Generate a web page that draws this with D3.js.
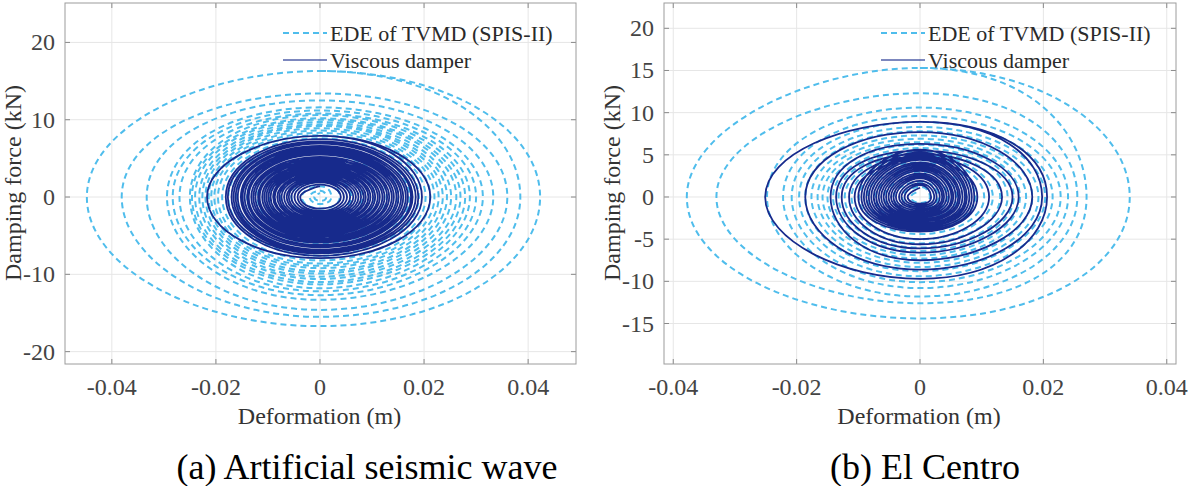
<!DOCTYPE html>
<html>
<head>
<meta charset="utf-8">
<script src="https://cdn.jsdelivr.net/npm/d3@7"></script>
<style>
  body { margin: 0; background: #fff; }
  text { font-family: "Liberation Serif", "Times New Roman", serif; }
</style>
</head>
<body>
<div id="canvas"></div>
<script>
var w = 1188;
var h = 486;

// each loop: [disp +, force -, disp -, force +]  (m, kN)
var artEde = [
  [0.0423, -16.7, -0.0448, 16.3],
  [0.0385, -15.5, -0.0381, 13.4],
  [0.0360, -14.6, -0.0333, 12.5],
  [0.0333, -13.3, -0.0294, 11.6],
  [0.0313, -12.7, -0.0283, 11.2],
  [0.0300, -12.2, -0.0270, 10.8],
  [0.0288, -11.8, -0.0250, 10.6],
  [0.0279, -11.3, -0.0246, 10.2],
  [0.0270, -11.0, -0.0240, 10.0],
  [0.0262, -10.6, -0.0232, 9.7],
  [0.0252, -10.3, -0.0226, 9.4],
  [0.0244, -9.9, -0.0220, 9.2],
  [0.0236, -9.6, -0.0214, 8.9],
  [0.0228, -9.2, -0.0209, 8.6],
  [0.0220, -8.9, -0.0203, 8.3],
  [0.0212, -8.6, -0.0196, 8.0],
  [0.0203, -8.2, -0.0188, 7.6],
  [0.0190, -7.6, -0.0176, 7.1],
  [0.0172, -6.9, -0.0160, 6.4],
  [0.0150, -6.0, -0.0140, 5.6],
  [0.0128, -5.1, -0.0120, 4.8],
  [0.0105, -4.2, -0.0098, 3.9],
  [0.0082, -3.3, -0.0076, 3.0],
  [0.0060, -2.4, -0.0055, 2.2],
  [0.0038, -1.5, -0.0035, 1.4],
  [0.0022, -0.9, -0.0020, 0.8],
  [0.0012, -0.5, -0.0011, 0.5]
];

var artVd = [
  [0.0212, -7.9, -0.0217, 7.9],
  [0.0196, -7.6, -0.0181, 7.5],
  [0.0189, -7.3, -0.0177, 7.2],
  [0.0184, -7.1, -0.0170, 7.0],
  [0.0178, -6.9, -0.0166, 6.9],
  [0.0175, -6.8, -0.0162, 6.6],
  [0.0169, -6.5, -0.0158, 6.4],
  [0.0165, -6.3, -0.0152, 6.2],
  [0.0160, -6.2, -0.0149, 6.0],
  [0.0156, -5.9, -0.0145, 5.8],
  [0.0151, -5.8, -0.0140, 5.6],
  [0.0147, -5.6, -0.0137, 5.5],
  [0.0142, -5.4, -0.0132, 5.2],
  [0.0138, -5.2, -0.0128, 5.0],
  [0.0133, -5.0, -0.0124, 4.9],
  [0.0129, -4.9, -0.0119, 4.7],
  [0.0124, -4.7, -0.0116, 4.5],
  [0.0120, -4.5, -0.0111, 4.3],
  [0.0115, -4.3, -0.0107, 4.2],
  [0.0111, -4.2, -0.0103, 4.0],
  [0.0106, -4.0, -0.0099, 3.8],
  [0.0102, -3.8, -0.0095, 3.6],
  [0.0097, -3.6, -0.0090, 3.5],
  [0.0093, -3.5, -0.0087, 3.3],
  [0.0088, -3.3, -0.0082, 3.1],
  [0.0084, -3.2, -0.0078, 3.0],
  [0.0079, -3.0, -0.0074, 2.8],
  [0.0074, -2.8, -0.0069, 2.6],
  [0.0069, -2.6, -0.0064, 2.4],
  [0.0064, -2.4, -0.0060, 2.3],
  [0.0058, -2.2, -0.0055, 2.1],
  [0.0052, -2.0, -0.0049, 1.9],
  [0.0046, -1.8, -0.0043, 1.6],
  [0.0040, -1.5, -0.0038, 1.4]
];

var elcEde = [
  [0.0340, -14.4, -0.0378, 15.3],
  [0.0270, -12.6, -0.0330, 12.3],
  [0.0255, -11.8, -0.0248, 10.6],
  [0.0240, -10.8, -0.0222, 9.6],
  [0.0228, -10.1, -0.0208, 8.9],
  [0.0215, -9.4, -0.0196, 8.3],
  [0.0203, -8.8, -0.0186, 7.8],
  [0.0192, -8.3, -0.0176, 7.3],
  [0.0182, -7.8, -0.0166, 6.9],
  [0.0172, -7.3, -0.0158, 6.5],
  [0.0162, -6.9, -0.0150, 6.2],
  [0.0152, -6.4, -0.0141, 5.8],
  [0.0142, -6.0, -0.0132, 5.4],
  [0.0130, -5.5, -0.0122, 5.0],
  [0.0118, -5.0, -0.0111, 4.6],
  [0.0104, -4.4, -0.0099, 4.1],
  [0.0090, -3.8, -0.0086, 3.5],
  [0.0075, -3.2, -0.0072, 3.0],
  [0.0060, -2.6, -0.0058, 2.4],
  [0.0045, -1.9, -0.0043, 1.8],
  [0.0030, -1.3, -0.0029, 1.2],
  [0.0016, -0.7, -0.0015, 0.7]
];

var elcVd = [
  [0.0206, -9.7, -0.0251, 8.9],
  [0.0198, -8.6, -0.0186, 7.7],
  [0.0182, -7.5, -0.0145, 6.3],
  [0.0160, -6.6, -0.0136, 5.5],
  [0.0150, -6.1, -0.0127, 5.1],
  [0.0133, -5.6, -0.0115, 4.8],
  [0.0112, -5.0, -0.0106, 4.4],
  [0.0093, -4.1, -0.0100, 5.6],
  [0.0088, -3.9, -0.0095, 5.3],
  [0.0084, -3.7, -0.0091, 5.0],
  [0.0080, -3.5, -0.0087, 4.8],
  [0.0076, -3.4, -0.0083, 4.6],
  [0.0073, -3.2, -0.0079, 4.4],
  [0.0069, -3.1, -0.0075, 4.1],
  [0.0065, -2.9, -0.0071, 3.9],
  [0.0062, -2.7, -0.0067, 3.7],
  [0.0058, -2.6, -0.0063, 3.5],
  [0.0054, -2.4, -0.0059, 3.3],
  [0.0051, -2.3, -0.0055, 3.1],
  [0.0047, -2.1, -0.0051, 2.8],
  [0.0043, -1.9, -0.0047, 2.6],
  [0.0039, -1.8, -0.0043, 2.4],
  [0.0036, -1.6, -0.0039, 2.2],
  [0.0032, -1.4, -0.0034, 1.9],
  [0.0027, -1.2, -0.0030, 1.6],
  [0.0023, -1.0, -0.0025, 1.4],
  [0.0018, -0.8, -0.0020, 1.1]
];

var xTicks = [-0.04, -0.02, 0, 0.02, 0.04];
var artYTicks = [-20, -10, 0, 10, 20];
var elcYTicks = [-15, -10, -5, 0, 5, 10, 15, 20];
var legendNames = ["EDE of TVMD (SPIS-II)", "Viscous damper"];
var captions = ["(a) Artificial seismic wave", "(b) El Centro"];

var lightBlue = "#4fbdec";
var navy = "#172a8c";

var svg = d3.select("#canvas")
    .append("svg")
    .attr("width", w)
    .attr("height", h);

// turn loop peaks into the point sequence of the spiral
// (starts on the left of the first loop; that lead-in piece is skipped when drawing)
function loopPoints(loops) {
    var pts = [[loops[0][2], 0], [0, loops[0][3]]];
    loops.forEach(function (l) {
        pts.push([l[0], 0]);
        pts.push([0, l[1]]);
        pts.push([l[2], 0]);
        pts.push([0, l[3]]);
    });
    return pts;
}

// run the line through a context that drops the first curve segment
function spiralPath(line, pts) {
    var out = d3.path();
    var skip = true;
    var ctx = {
        moveTo: function () {},
        lineTo: function (x, y) { out.lineTo(x, y); },
        bezierCurveTo: function (a, b, c, d, e, f) {
            if (skip) { out.moveTo(e, f); skip = false; }
            else out.bezierCurveTo(a, b, c, d, e, f);
        },
        closePath: function () {}
    };
    line.context(ctx)(pts);
    line.context(null);
    return out.toString();
}

function drawPanel(p) {
    var x = d3.scaleLinear().domain(p.xDom).range([p.left, p.right]);
    var y = d3.scaleLinear().domain(p.yDom).range([p.bottom, p.top]);
    var g = svg.append("g");

    // grid
    g.selectAll(".gx").data(xTicks).join("line")
        .attr("x1", d => x(d)).attr("x2", d => x(d))
        .attr("y1", p.top).attr("y2", p.bottom)
        .attr("stroke", "#e6e6e6").attr("stroke-width", 1);
    g.selectAll(".gy").data(p.yTicks).join("line")
        .attr("x1", p.left).attr("x2", p.right)
        .attr("y1", d => y(d)).attr("y2", d => y(d))
        .attr("stroke", "#e6e6e6").attr("stroke-width", 1);

    var line = d3.line()
        .x(d => x(d[0]))
        .y(d => y(d[1]))
        .curve(d3.curveCardinal.tension(-0.65));

    var clipId = "clip" + p.left;
    svg.append("clipPath").attr("id", clipId)
        .append("rect")
        .attr("x", p.left).attr("y", p.top)
        .attr("width", p.right - p.left).attr("height", p.bottom - p.top);

    var plot = g.append("g").attr("clip-path", "url(#" + clipId + ")");
    plot.append("path")
        .attr("d", spiralPath(line, loopPoints(p.ede)))
        .attr("fill", "none")
        .attr("stroke", lightBlue)
        .attr("stroke-width", 2)
        .attr("stroke-dasharray", "6,4");
    plot.append("path")
        .attr("d", spiralPath(line, loopPoints(p.vd)))
        .attr("fill", "none")
        .attr("stroke", navy)
        .attr("stroke-width", 1.8);

    // ticks (inward, all four sides)
    var tl = 5;
    xTicks.forEach(function (t) {
        g.append("line").attr("x1", x(t)).attr("x2", x(t))
            .attr("y1", p.bottom).attr("y2", p.bottom - tl).attr("stroke", "#8a8a8a");
        g.append("line").attr("x1", x(t)).attr("x2", x(t))
            .attr("y1", p.top).attr("y2", p.top + tl).attr("stroke", "#8a8a8a");
    });
    p.yTicks.forEach(function (t) {
        g.append("line").attr("x1", p.left).attr("x2", p.left + tl)
            .attr("y1", y(t)).attr("y2", y(t)).attr("stroke", "#8a8a8a");
        g.append("line").attr("x1", p.right).attr("x2", p.right - tl)
            .attr("y1", y(t)).attr("y2", y(t)).attr("stroke", "#8a8a8a");
    });

    g.append("rect")
        .attr("x", p.left).attr("y", p.top)
        .attr("width", p.right - p.left).attr("height", p.bottom - p.top)
        .attr("fill", "none").attr("stroke", "#9c9c9c").attr("stroke-width", 1);

    // tick labels
    g.selectAll(".xl").data(xTicks).join("text")
        .attr("x", d => x(d)).attr("y", p.bottom + 31)
        .attr("text-anchor", "middle")
        .attr("font-size", "24px").attr("fill", "#444")
        .text(d => d === 0 ? "0" : String(d));
    g.selectAll(".yl").data(p.yTicks).join("text")
        .attr("x", p.left - 10).attr("y", d => y(d))
        .attr("text-anchor", "end").attr("dominant-baseline", "central")
        .attr("font-size", "24px").attr("fill", "#444")
        .text(d => String(d));

    // axis titles
    g.append("text")
        .attr("x", (p.left + p.right) / 2 - 1).attr("y", p.bottom + 60)
        .attr("text-anchor", "middle").attr("font-size", "24px").attr("fill", "#333")
        .text("Deformation (m)");
    g.append("text")
        .attr("transform", "translate(" + (p.left - 44) + ",183) rotate(-90)")
        .attr("text-anchor", "middle").attr("font-size", "24px").attr("fill", "#333")
        .text("Damping force (kN)");

    // legend
    var lx = p.legendX;
    [0, 1].forEach(function (i) {
        var ly = 33 + i * 27;
        g.append("line")
            .attr("x1", lx).attr("x2", lx + 44).attr("y1", ly).attr("y2", ly)
            .attr("stroke", i === 0 ? lightBlue : navy)
            .attr("stroke-width", i === 0 ? 2 : 1.6)
            .attr("stroke-dasharray", i === 0 ? "6,4" : null)
            .attr("opacity", i === 0 ? 1 : 0.75);
        g.append("text")
            .attr("x", lx + 47).attr("y", ly).attr("dominant-baseline", "central")
            .attr("font-size", "22px").attr("fill", "#2a2a2a")
            .text(legendNames[i]);
    });

    svg.append("text")
        .attr("x", p.captionX).attr("y", 479)
        .attr("text-anchor", "middle").attr("font-size", "36px").attr("fill", "#000")
        .text(p.caption);
}

drawPanel({
    left: 65, right: 576, top: 3, bottom: 364,
    xDom: [-0.049, 0.0492], yDom: [-21.6, 25.1],
    yTicks: artYTicks, ede: artEde, vd: artVd,
    legendX: 283, caption: captions[0], captionX: 367
});

drawPanel({
    left: 664, right: 1176, top: 3, bottom: 364,
    xDom: [-0.0415, 0.0415], yDom: [-19.8, 23.0],
    yTicks: elcYTicks, ede: elcEde, vd: elcVd,
    legendX: 881, caption: captions[1], captionX: 925
});
</script>
</body>
</html>
